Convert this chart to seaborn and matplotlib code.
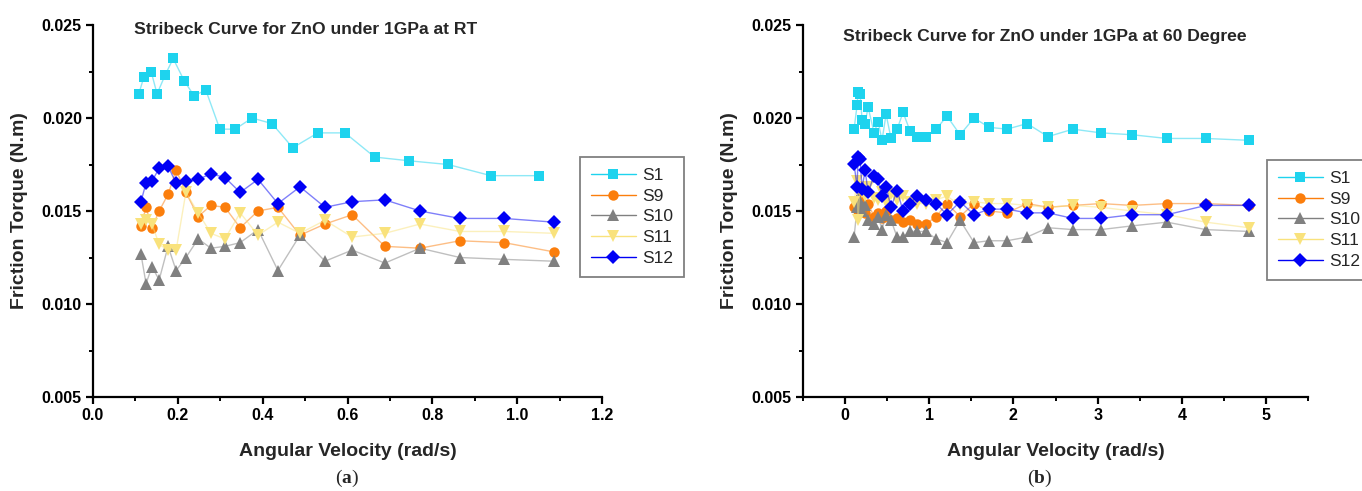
import numpy as np
import pandas as pd
import seaborn as sns
import matplotlib
matplotlib.use("Agg")
import matplotlib.pyplot as plt
from matplotlib.lines import Line2D
from matplotlib.ticker import MultipleLocator, FormatStrFormatter

# ---------------- data ----------------
series_names = ["S1", "S9", "S10", "S11", "S12"]

# Panel (a): room temperature
a_x_s1 = [0.108, 0.120, 0.137, 0.151, 0.170, 0.189, 0.215, 0.238, 0.266, 0.299, 0.335,
          0.375, 0.422, 0.471, 0.530, 0.594, 0.664, 0.745, 0.837, 0.938, 1.052]
a_s1 = [0.0213, 0.0222, 0.0225, 0.0213, 0.0223, 0.0232, 0.0220, 0.0212, 0.0215, 0.0194, 0.0194,
        0.0200, 0.0197, 0.0184, 0.0192, 0.0192, 0.0179, 0.0177, 0.0175, 0.0169, 0.0169]
a_x = [0.113, 0.125, 0.139, 0.156, 0.177, 0.196, 0.219, 0.248, 0.278, 0.311, 0.347,
       0.389, 0.436, 0.488, 0.547, 0.611, 0.688, 0.771, 0.865, 0.969, 1.087]
a_s9 = [0.0142, 0.0152, 0.0141, 0.0150, 0.0159, 0.0172, 0.0160, 0.0147, 0.0153, 0.0152, 0.0141,
        0.0150, 0.0152, 0.0137, 0.0143, 0.0148, 0.0131, 0.0130, 0.0134, 0.0133, 0.0128]
a_s10 = [0.0127, 0.0111, 0.0120, 0.0113, 0.0131, 0.0118, 0.0125, 0.0135, 0.0130, 0.0131, 0.0133,
         0.0140, 0.0118, 0.0137, 0.0123, 0.0129, 0.0122, 0.0130, 0.0125, 0.0124, 0.0123]
a_s11 = [0.0143, 0.0145, 0.0143, 0.0132, 0.0129, 0.0129, 0.0160, 0.0149, 0.0138, 0.0135, 0.0149,
         0.0137, 0.0144, 0.0138, 0.0145, 0.0136, 0.0138, 0.0143, 0.0139, 0.0139, 0.0138]
a_s12 = [0.0155, 0.0165, 0.0166, 0.0173, 0.0174, 0.0165, 0.0166, 0.0167, 0.0170, 0.0168, 0.0160,
         0.0167, 0.0154, 0.0163, 0.0152, 0.0155, 0.0156, 0.0150, 0.0146, 0.0146, 0.0144]

# Panel (b): 60 degree
b_x = [0.107, 0.143, 0.154, 0.178, 0.202, 0.238, 0.273, 0.344, 0.392, 0.439, 0.487,
       0.546, 0.618, 0.689, 0.772, 0.855, 0.962, 1.081, 1.211, 1.366, 1.532,
       1.710, 1.924, 2.162, 2.411, 2.708, 3.040, 3.409, 3.824, 4.287, 4.798]
b_s1 = [0.0194, 0.0207, 0.0214, 0.0213, 0.0199, 0.0197, 0.0206, 0.0192, 0.0198, 0.0188, 0.0202,
        0.0189, 0.0194, 0.0203, 0.0193, 0.0190, 0.0190, 0.0194, 0.0201, 0.0191, 0.0200,
        0.0195, 0.0194, 0.0197, 0.0190, 0.0194, 0.0192, 0.0191, 0.0189, 0.0189, 0.0188]
b_s9 = [0.0152, 0.0155, 0.0150, 0.0157, 0.0153, 0.0149, 0.0154, 0.0147, 0.0149, 0.0146, 0.0150,
        0.0145, 0.0146, 0.0144, 0.0145, 0.0143, 0.0143, 0.0147, 0.0154, 0.0147, 0.0154,
        0.0150, 0.0149, 0.0154, 0.0152, 0.0153, 0.0154, 0.0153, 0.0154, 0.0154, 0.0153]
b_s10 = [0.0136, 0.0152, 0.0157, 0.0155, 0.0150, 0.0153, 0.0145, 0.0143, 0.0147, 0.0140, 0.0148,
         0.0145, 0.0136, 0.0136, 0.0139, 0.0139, 0.0139, 0.0135, 0.0133, 0.0145, 0.0133,
         0.0134, 0.0134, 0.0136, 0.0141, 0.0140, 0.0140, 0.0142, 0.0144, 0.0140, 0.0139]
b_s11 = [0.0155, 0.0166, 0.0145, 0.0163, 0.0160, 0.0158, 0.0163, 0.0157, 0.0156, 0.0160, 0.0155,
         0.0159, 0.0156, 0.0158, 0.0155, 0.0154, 0.0154, 0.0156, 0.0158, 0.0153, 0.0155,
         0.0154, 0.0154, 0.0153, 0.0152, 0.0153, 0.0152, 0.0150, 0.0148, 0.0144, 0.0141]
b_s12 = [0.0175, 0.0163, 0.0179, 0.0178, 0.0162, 0.0172, 0.0160, 0.0169, 0.0167, 0.0158, 0.0163,
         0.0152, 0.0161, 0.0150, 0.0154, 0.0158, 0.0156, 0.0154, 0.0148, 0.0155, 0.0148,
         0.0151, 0.0151, 0.0149, 0.0149, 0.0146, 0.0146, 0.0148, 0.0148, 0.0153, 0.0153]

titles = ["Stribeck Curve for ZnO under 1GPa at RT",
          "Stribeck Curve for ZnO under 1GPa at 60 Degree"]
x_label = "Angular Velocity (rad/s)"
y_label = "Friction Torque (N.m)"
panel_tags = ["a", "b"]

colors = {"S1": "#1ED3EE", "S9": "#FB7E0C", "S10": "#808080", "S11": "#F9E27C", "S12": "#0000F5"}
markers = {"S1": "s", "S9": "o", "S10": "^", "S11": "v", "S12": "D"}
msize = {"S1": 6.5, "S9": 7.5, "S10": 8, "S11": 8, "S12": 6.8}

def long_frame(xs1, s1, xs, s9, s10, s11, s12):
    frames = [pd.DataFrame({"x": xs1, "y": s1, "series": "S1"})]
    for name, vals in zip(["S9", "S10", "S11", "S12"], [s9, s10, s11, s12]):
        frames.append(pd.DataFrame({"x": xs, "y": vals, "series": name}))
    return pd.concat(frames, ignore_index=True)

df_a = long_frame(a_x_s1, a_s1, a_x, a_s9, a_s10, a_s11, a_s12)
df_b = long_frame(b_x, b_s1, b_x, b_s9, b_s10, b_s11, b_s12)

# ---------------- style ----------------
sns.set_theme(style="ticks")
plt.rcParams["font.family"] = ["Liberation Sans", "DejaVu Sans"]
plt.rcParams["mathtext.fontset"] = "custom"
plt.rcParams["mathtext.rm"] = "Liberation Serif"
plt.rcParams["mathtext.bf"] = "Liberation Serif:bold"

fig = plt.figure(figsize=(13.62, 4.91), dpi=100)
W, H = 1362, 491
ax_a = fig.add_axes([93 / W, (H - 397) / H, 509 / W, 372 / H])
ax_b = fig.add_axes([803 / W, (H - 397) / H, 505 / W, 372 / H])

def draw(ax, df):
    for name in series_names:
        sub = df[df["series"] == name]
        sns.lineplot(data=sub, x="x", y="y", ax=ax, color=colors[name], linewidth=1.0,
                     alpha=0.5, sort=False, estimator=None, legend=False)
        ax.plot(sub["x"], sub["y"], linestyle="none", marker=markers[name],
                markersize=msize[name], color=colors[name], markeredgewidth=0)

draw(ax_a, df_a)
draw(ax_b, df_b)

for ax in (ax_a, ax_b):
    ax.set_ylim(0.005, 0.025)
    ax.yaxis.set_major_locator(MultipleLocator(0.005))
    ax.yaxis.set_minor_locator(MultipleLocator(0.0025))
    ax.yaxis.set_major_formatter(FormatStrFormatter("%.3f"))
    for s in ("top", "right"):
        ax.spines[s].set_visible(False)
    for s in ("left", "bottom"):
        ax.spines[s].set_linewidth(1.6)
        ax.spines[s].set_color("black")
    ax.tick_params(which="major", direction="out", length=5, width=1.6, colors="black",
                   labelsize=11.5, pad=3)
    ax.tick_params(which="minor", direction="out", length=3, width=1.4, colors="black")
    ax.set_xlabel(x_label, fontsize=14, fontweight="bold", labelpad=14)
    ax.set_ylabel(y_label, fontsize=14, fontweight="bold", labelpad=10)

ax_a.set_xlim(0.0, 1.2)
ax_a.xaxis.set_major_locator(MultipleLocator(0.2))
ax_a.xaxis.set_minor_locator(MultipleLocator(0.1))
ax_a.xaxis.set_major_formatter(FormatStrFormatter("%.1f"))
ax_b.set_xlim(-0.5, 5.5)
ax_b.xaxis.set_major_locator(MultipleLocator(1))
ax_b.xaxis.set_minor_locator(MultipleLocator(0.5))
ax_b.xaxis.set_major_formatter(FormatStrFormatter("%d"))
for ax in (ax_a, ax_b):
    for lab in ax.get_xticklabels() + ax.get_yticklabels():
        lab.set_fontweight("bold")

ax_a.text((134 - 93) / 509, (397 - 29) / 372, titles[0], transform=ax_a.transAxes,
          fontsize=12.6, fontweight="bold", va="center", ha="left")
ax_b.text((843 - 803) / 505, (397 - 36) / 372, titles[1], transform=ax_b.transAxes,
          fontsize=12.6, fontweight="bold", va="center", ha="left")

def add_legend(ax, x0, y0):
    handles = [Line2D([0], [0], color=colors[n], marker=markers[n], markersize=msize[n],
                      markeredgewidth=0, linewidth=1.0) for n in series_names]
    leg = ax.legend(handles, series_names, loc="upper left", bbox_to_anchor=(x0, y0),
                    borderaxespad=0, frameon=True, fancybox=False, fontsize=12.5,
                    handlelength=2.6, handletextpad=0.35, labelspacing=0.32,
                    borderpad=0.62, framealpha=1)
    leg.get_frame().set_edgecolor("#808080")
    leg.get_frame().set_linewidth(1.3)
    return leg

add_legend(ax_a, (580 - 93) / 509, (397 - 157) / 372)
add_legend(ax_b, (1267 - 803) / 505, (397 - 160) / 372)

for tag, xc in zip(panel_tags, [347, 1040]):
    fig.text(xc / W, 1 - 478 / H, "(" + r"$\mathbf{" + tag + "}$" + ")",
             fontsize=14, family="Liberation Serif", ha="center", va="center")

fig.savefig("out.png", dpi=100)
